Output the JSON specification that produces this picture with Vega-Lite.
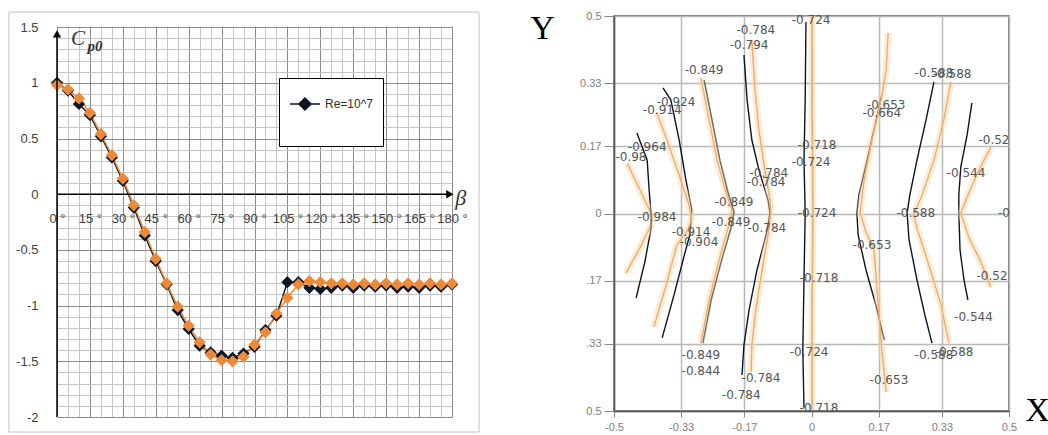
{
  "$schema": "https://vega.github.io/schema/vega-lite/v6.json",
  "padding": {"left": 8, "top": 1, "right": 0, "bottom": 0},
  "background": "white",
  "spacing": 48,
  "config": {"font": "Liberation Sans"},
  "datasets": {
    "cp": [
      {"beta":0,"cp":1.00,"series":"Re=10^7"},{"beta":5,"cp":0.93,"series":"Re=10^7"},{"beta":10,"cp":0.81,"series":"Re=10^7"},{"beta":15,"cp":0.71,"series":"Re=10^7"},{"beta":20,"cp":0.52,"series":"Re=10^7"},{"beta":25,"cp":0.33,"series":"Re=10^7"},{"beta":30,"cp":0.12,"series":"Re=10^7"},{"beta":35,"cp":-0.12,"series":"Re=10^7"},{"beta":40,"cp":-0.37,"series":"Re=10^7"},{"beta":45,"cp":-0.60,"series":"Re=10^7"},{"beta":50,"cp":-0.81,"series":"Re=10^7"},{"beta":55,"cp":-1.04,"series":"Re=10^7"},{"beta":60,"cp":-1.21,"series":"Re=10^7"},{"beta":65,"cp":-1.36,"series":"Re=10^7"},{"beta":70,"cp":-1.42,"series":"Re=10^7"},{"beta":75,"cp":-1.45,"series":"Re=10^7"},{"beta":80,"cp":-1.47,"series":"Re=10^7"},{"beta":85,"cp":-1.43,"series":"Re=10^7"},{"beta":90,"cp":-1.37,"series":"Re=10^7"},{"beta":95,"cp":-1.22,"series":"Re=10^7"},{"beta":100,"cp":-1.09,"series":"Re=10^7"},{"beta":105,"cp":-0.79,"series":"Re=10^7"},{"beta":110,"cp":-0.79,"series":"Re=10^7"},{"beta":115,"cp":-0.84,"series":"Re=10^7"},{"beta":120,"cp":-0.85,"series":"Re=10^7"},{"beta":125,"cp":-0.84,"series":"Re=10^7"},{"beta":130,"cp":-0.82,"series":"Re=10^7"},{"beta":135,"cp":-0.84,"series":"Re=10^7"},{"beta":140,"cp":-0.82,"series":"Re=10^7"},{"beta":145,"cp":-0.83,"series":"Re=10^7"},{"beta":150,"cp":-0.82,"series":"Re=10^7"},{"beta":155,"cp":-0.84,"series":"Re=10^7"},{"beta":160,"cp":-0.83,"series":"Re=10^7"},{"beta":165,"cp":-0.84,"series":"Re=10^7"},{"beta":170,"cp":-0.82,"series":"Re=10^7"},{"beta":175,"cp":-0.83,"series":"Re=10^7"},{"beta":180,"cp":-0.81,"series":"Re=10^7"},
      {"beta":0,"cp":0.98,"series":"Re=10^7 b"},{"beta":5,"cp":0.94,"series":"Re=10^7 b"},{"beta":10,"cp":0.86,"series":"Re=10^7 b"},{"beta":15,"cp":0.73,"series":"Re=10^7 b"},{"beta":20,"cp":0.54,"series":"Re=10^7 b"},{"beta":25,"cp":0.35,"series":"Re=10^7 b"},{"beta":30,"cp":0.14,"series":"Re=10^7 b"},{"beta":35,"cp":-0.10,"series":"Re=10^7 b"},{"beta":40,"cp":-0.34,"series":"Re=10^7 b"},{"beta":45,"cp":-0.58,"series":"Re=10^7 b"},{"beta":50,"cp":-0.80,"series":"Re=10^7 b"},{"beta":55,"cp":-1.01,"series":"Re=10^7 b"},{"beta":60,"cp":-1.18,"series":"Re=10^7 b"},{"beta":65,"cp":-1.33,"series":"Re=10^7 b"},{"beta":70,"cp":-1.44,"series":"Re=10^7 b"},{"beta":75,"cp":-1.49,"series":"Re=10^7 b"},{"beta":80,"cp":-1.50,"series":"Re=10^7 b"},{"beta":85,"cp":-1.46,"series":"Re=10^7 b"},{"beta":90,"cp":-1.35,"series":"Re=10^7 b"},{"beta":95,"cp":-1.24,"series":"Re=10^7 b"},{"beta":100,"cp":-1.07,"series":"Re=10^7 b"},{"beta":105,"cp":-0.93,"series":"Re=10^7 b"},{"beta":110,"cp":-0.81,"series":"Re=10^7 b"},{"beta":115,"cp":-0.78,"series":"Re=10^7 b"},{"beta":120,"cp":-0.79,"series":"Re=10^7 b"},{"beta":125,"cp":-0.80,"series":"Re=10^7 b"},{"beta":130,"cp":-0.80,"series":"Re=10^7 b"},{"beta":135,"cp":-0.81,"series":"Re=10^7 b"},{"beta":140,"cp":-0.80,"series":"Re=10^7 b"},{"beta":145,"cp":-0.81,"series":"Re=10^7 b"},{"beta":150,"cp":-0.80,"series":"Re=10^7 b"},{"beta":155,"cp":-0.81,"series":"Re=10^7 b"},{"beta":160,"cp":-0.80,"series":"Re=10^7 b"},{"beta":165,"cp":-0.81,"series":"Re=10^7 b"},{"beta":170,"cp":-0.80,"series":"Re=10^7 b"},{"beta":175,"cp":-0.81,"series":"Re=10^7 b"},{"beta":180,"cp":-0.80,"series":"Re=10^7 b"}
    ],
    "contours": [
      {"c":"Ao","s":"o","i":0,"x":-0.467,"y":0.128},{"c":"Ao","s":"o","i":1,"x":-0.434,"y":0.059},{"c":"Ao","s":"o","i":2,"x":-0.404,"y":-0.004},{"c":"Ao","s":"o","i":3,"x":-0.406,"y":-0.029},{"c":"Ao","s":"o","i":4,"x":-0.437,"y":-0.092},{"c":"Ao","s":"o","i":5,"x":-0.470,"y":-0.151},
      {"c":"Ad","s":"d","i":0,"x":-0.442,"y":0.204},{"c":"Ad","s":"d","i":1,"x":-0.416,"y":0.135},{"c":"Ad","s":"d","i":2,"x":-0.411,"y":0.059},{"c":"Ad","s":"d","i":3,"x":-0.406,"y":-0.004},{"c":"Ad","s":"d","i":4,"x":-0.406,"y":-0.037},{"c":"Ad","s":"d","i":5,"x":-0.422,"y":-0.123},{"c":"Ad","s":"d","i":6,"x":-0.444,"y":-0.214},
      {"c":"Bd","s":"d","i":0,"x":-0.376,"y":0.318},{"c":"Bd","s":"d","i":1,"x":-0.356,"y":0.287},{"c":"Bd","s":"d","i":2,"x":-0.335,"y":0.186},{"c":"Bd","s":"d","i":3,"x":-0.318,"y":0.085},{"c":"Bd","s":"d","i":4,"x":-0.303,"y":0.009},{"c":"Bd","s":"d","i":5,"x":-0.308,"y":-0.054},{"c":"Bd","s":"d","i":6,"x":-0.320,"y":-0.098},{"c":"Bd","s":"d","i":7,"x":-0.348,"y":-0.206},{"c":"Bd","s":"d","i":8,"x":-0.378,"y":-0.315},
      {"c":"Bo","s":"o","i":0,"x":-0.391,"y":0.254},{"c":"Bo","s":"o","i":1,"x":-0.366,"y":0.186},{"c":"Bo","s":"o","i":2,"x":-0.335,"y":0.097},{"c":"Bo","s":"o","i":3,"x":-0.310,"y":0.022},{"c":"Bo","s":"o","i":4,"x":-0.303,"y":-0.011},{"c":"Bo","s":"o","i":5,"x":-0.313,"y":-0.042},{"c":"Bo","s":"o","i":6,"x":-0.341,"y":-0.080},{"c":"Bo","s":"o","i":7,"x":-0.368,"y":-0.181},{"c":"Bo","s":"o","i":8,"x":-0.399,"y":-0.287},
      {"c":"Co","s":"o","i":0,"x":-0.280,"y":0.343},{"c":"Co","s":"o","i":1,"x":-0.259,"y":0.237},{"c":"Co","s":"o","i":2,"x":-0.239,"y":0.135},{"c":"Co","s":"o","i":3,"x":-0.216,"y":0.052},{"c":"Co","s":"o","i":4,"x":-0.201,"y":0.009},{"c":"Co","s":"o","i":5,"x":-0.209,"y":-0.029},{"c":"Co","s":"o","i":6,"x":-0.234,"y":-0.118},{"c":"Co","s":"o","i":7,"x":-0.259,"y":-0.219},{"c":"Co","s":"o","i":8,"x":-0.280,"y":-0.328},
      {"c":"Cd","s":"d","i":0,"x":-0.272,"y":0.338},{"c":"Cd","s":"d","i":1,"x":-0.252,"y":0.237},{"c":"Cd","s":"d","i":2,"x":-0.232,"y":0.135},{"c":"Cd","s":"d","i":3,"x":-0.211,"y":0.052},{"c":"Cd","s":"d","i":4,"x":-0.196,"y":0.004},{"c":"Cd","s":"d","i":5,"x":-0.204,"y":-0.037},{"c":"Cd","s":"d","i":6,"x":-0.229,"y":-0.123},{"c":"Cd","s":"d","i":7,"x":-0.254,"y":-0.219},{"c":"Cd","s":"d","i":8,"x":-0.275,"y":-0.328},
      {"c":"Dd","s":"d","i":0,"x":-0.171,"y":0.401},{"c":"Dd","s":"d","i":1,"x":-0.163,"y":0.287},{"c":"Dd","s":"d","i":2,"x":-0.151,"y":0.186},{"c":"Dd","s":"d","i":3,"x":-0.133,"y":0.110},{"c":"Dd","s":"d","i":4,"x":-0.110,"y":0.034},{"c":"Dd","s":"d","i":5,"x":-0.105,"y":0.001},{"c":"Dd","s":"d","i":6,"x":-0.115,"y":-0.054},{"c":"Dd","s":"d","i":7,"x":-0.138,"y":-0.143},{"c":"Dd","s":"d","i":8,"x":-0.158,"y":-0.244},{"c":"Dd","s":"d","i":9,"x":-0.171,"y":-0.333},{"c":"Dd","s":"d","i":10,"x":-0.176,"y":-0.409},
      {"c":"Do","s":"o","i":0,"x":-0.151,"y":0.439},{"c":"Do","s":"o","i":1,"x":-0.143,"y":0.313},{"c":"Do","s":"o","i":2,"x":-0.133,"y":0.211},{"c":"Do","s":"o","i":3,"x":-0.120,"y":0.123},{"c":"Do","s":"o","i":4,"x":-0.105,"y":0.034},{"c":"Do","s":"o","i":5,"x":-0.103,"y":0.001},{"c":"Do","s":"o","i":6,"x":-0.110,"y":-0.054},{"c":"Do","s":"o","i":7,"x":-0.125,"y":-0.143},{"c":"Do","s":"o","i":8,"x":-0.141,"y":-0.244},{"c":"Do","s":"o","i":9,"x":-0.151,"y":-0.333},{"c":"Do","s":"o","i":10,"x":-0.153,"y":-0.401},
      {"c":"Ed","s":"d","i":0,"x":-0.014,"y":0.485},{"c":"Ed","s":"d","i":1,"x":-0.016,"y":0.287},{"c":"Ed","s":"d","i":2,"x":-0.019,"y":0.135},{"c":"Ed","s":"d","i":3,"x":-0.016,"y":0.001},{"c":"Ed","s":"d","i":4,"x":-0.019,"y":-0.168},{"c":"Ed","s":"d","i":5,"x":-0.022,"y":-0.346},{"c":"Ed","s":"d","i":6,"x":-0.019,"y":-0.492},
      {"c":"Eo","s":"o","i":0,"x":0.001,"y":0.5},{"c":"Eo","s":"o","i":1,"x":0.001,"y":0.287},{"c":"Eo","s":"o","i":2,"x":0.004,"y":0.001},{"c":"Eo","s":"o","i":3,"x":0.001,"y":-0.219},{"c":"Eo","s":"o","i":4,"x":0.001,"y":-0.497},
      {"c":"Fd","s":"d","i":0,"x":0.178,"y":0.300},{"c":"Fd","s":"d","i":1,"x":0.158,"y":0.211},{"c":"Fd","s":"d","i":2,"x":0.138,"y":0.123},{"c":"Fd","s":"d","i":3,"x":0.120,"y":0.047},{"c":"Fd","s":"d","i":4,"x":0.115,"y":0.001},{"c":"Fd","s":"d","i":5,"x":0.118,"y":-0.054},{"c":"Fd","s":"d","i":6,"x":0.138,"y":-0.143},{"c":"Fd","s":"d","i":7,"x":0.163,"y":-0.232},{"c":"Fd","s":"d","i":8,"x":0.184,"y":-0.320},
      {"c":"Fo","s":"o","i":0,"x":0.194,"y":0.457},{"c":"Fo","s":"o","i":1,"x":0.189,"y":0.363},{"c":"Fo","s":"o","i":2,"x":0.176,"y":0.287},{"c":"Fo","s":"o","i":3,"x":0.153,"y":0.186},{"c":"Fo","s":"o","i":4,"x":0.133,"y":0.085},{"c":"Fo","s":"o","i":5,"x":0.123,"y":0.001},{"c":"Fo","s":"o","i":6,"x":0.138,"y":-0.047},{"c":"Fo","s":"o","i":7,"x":0.158,"y":-0.092},{"c":"Fo","s":"o","i":8,"x":0.168,"y":-0.219},{"c":"Fo","s":"o","i":9,"x":0.178,"y":-0.346},{"c":"Fo","s":"o","i":10,"x":0.189,"y":-0.452},
      {"c":"Gd","s":"d","i":0,"x":0.310,"y":0.333},{"c":"Gd","s":"d","i":1,"x":0.290,"y":0.237},{"c":"Gd","s":"d","i":2,"x":0.267,"y":0.135},{"c":"Gd","s":"d","i":3,"x":0.249,"y":0.047},{"c":"Gd","s":"d","i":4,"x":0.242,"y":0.001},{"c":"Gd","s":"d","i":5,"x":0.247,"y":-0.067},{"c":"Gd","s":"d","i":6,"x":0.267,"y":-0.168},{"c":"Gd","s":"d","i":7,"x":0.287,"y":-0.257},{"c":"Gd","s":"d","i":8,"x":0.305,"y":-0.328},
      {"c":"Go","s":"o","i":0,"x":0.353,"y":0.333},{"c":"Go","s":"o","i":1,"x":0.335,"y":0.237},{"c":"Go","s":"o","i":2,"x":0.310,"y":0.135},{"c":"Go","s":"o","i":3,"x":0.280,"y":0.047},{"c":"Go","s":"o","i":4,"x":0.259,"y":-0.004},{"c":"Go","s":"o","i":5,"x":0.267,"y":-0.037},{"c":"Go","s":"o","i":6,"x":0.297,"y":-0.130},{"c":"Go","s":"o","i":7,"x":0.328,"y":-0.232},{"c":"Go","s":"o","i":8,"x":0.348,"y":-0.328},
      {"c":"Hd","s":"d","i":0,"x":0.406,"y":0.280},{"c":"Hd","s":"d","i":1,"x":0.394,"y":0.199},{"c":"Hd","s":"d","i":2,"x":0.378,"y":0.118},{"c":"Hd","s":"d","i":3,"x":0.373,"y":0.047},{"c":"Hd","s":"d","i":4,"x":0.373,"y":0.001},{"c":"Hd","s":"d","i":5,"x":0.376,"y":-0.092},{"c":"Hd","s":"d","i":6,"x":0.386,"y":-0.168},{"c":"Hd","s":"d","i":7,"x":0.396,"y":-0.219},
      {"c":"Ho","s":"o","i":0,"x":0.454,"y":0.168},{"c":"Ho","s":"o","i":1,"x":0.424,"y":0.110},{"c":"Ho","s":"o","i":2,"x":0.399,"y":0.054},{"c":"Ho","s":"o","i":3,"x":0.378,"y":0.001},{"c":"Ho","s":"o","i":4,"x":0.399,"y":-0.062},{"c":"Ho","s":"o","i":5,"x":0.429,"y":-0.123},{"c":"Ho","s":"o","i":6,"x":0.454,"y":-0.186}
    ],
    "labels": [
      {"t":"-0.98","x":-0.457,"y":0.143},{"t":"-0.964","x":-0.416,"y":0.168},{"t":"-0.984","x":-0.391,"y":-0.009},
      {"t":"-0.924","x":-0.343,"y":0.282},{"t":"-0.914","x":-0.378,"y":0.262},{"t":"-0.914","x":-0.305,"y":-0.047},{"t":"-0.904","x":-0.285,"y":-0.072},
      {"t":"-0.849","x":-0.272,"y":0.363},{"t":"-0.849","x":-0.196,"y":0.029},{"t":"-0.849","x":-0.204,"y":-0.022},{"t":"-0.849","x":-0.280,"y":-0.358},{"t":"-0.844","x":-0.280,"y":-0.399},
      {"t":"-0.784","x":-0.141,"y":0.465},{"t":"-0.794","x":-0.158,"y":0.427},{"t":"-0.784","x":-0.108,"y":0.103},{"t":"-0.784","x":-0.115,"y":0.080},{"t":"-0.784","x":-0.113,"y":-0.037},{"t":"-0.784","x":-0.128,"y":-0.416},{"t":"-0.784","x":-0.178,"y":-0.459},
      {"t":"-0.724","x":-0.001,"y":0.490},{"t":"-0.718","x":0.014,"y":0.173},{"t":"-0.724","x":-0.001,"y":0.130},{"t":"-0.724","x":0.014,"y":0.001},{"t":"-0.718","x":0.019,"y":-0.163},{"t":"-0.724","x":-0.006,"y":-0.351},{"t":"-0.718","x":0.019,"y":-0.492},
      {"t":"-0.653","x":0.189,"y":0.275},{"t":"-0.664","x":0.178,"y":0.254},{"t":"-0.653","x":0.153,"y":-0.080},{"t":"-0.653","x":0.196,"y":-0.422},
      {"t":"-0.588","x":0.310,"y":0.356},{"t":"-0.588","x":0.356,"y":0.353},{"t":"-0.588","x":0.264,"y":0.001},{"t":"-0.588","x":0.310,"y":-0.358},{"t":"-0.588","x":0.361,"y":-0.351},
      {"t":"-0.52","x":0.462,"y":0.186},{"t":"-0.544","x":0.391,"y":0.103},{"t":"-0","x":0.487,"y":0.001},{"t":"-0.52","x":0.457,"y":-0.158},{"t":"-0.544","x":0.410,"y":-0.262}
    ]
  },
  "hconcat": [
    {
      "width": 395,
      "height": 401,
      "view": {"stroke": null},
      "layer": [
        {
          "data": {"name": "cp"},
          "mark": {"type": "line", "strokeWidth": 1.5},
          "encoding": {
            "x": {
              "field": "beta", "type": "quantitative",
              "scale": {"domain": [0, 180], "nice": false, "zero": false},
              "axis": {
                "values": [0,5,10,15,20,25,30,35,40,45,50,55,60,65,70,75,80,85,90,95,100,105,110,115,120,125,130,135,140,145,150,155,160,165,170,175,180],
                "tickCount": 200,
                "grid": true,
                "gridColor": {"condition": {"test": "datum.value % 15 === 0", "value": "#8c8c8c"}, "value": "#c6c6c6"},
                "gridWidth": 1,
                "domain": false, "ticks": false, "tickSize": 0,
                "labelExpr": "datum.value % 15 === 0 ? datum.value + ' °' : ''",
                "labelPadding": -199, "labelBaseline": "middle",
                "labelFontSize": 13, "labelColor": "#404040", "labelFont": "Liberation Sans",
                "labelOverlap": false, "labelFlush": false, "title": null
              }
            },
            "y": {
              "field": "cp", "type": "quantitative",
              "scale": {"domain": [-2, 1.5997], "nice": false, "zero": false},
              "axis": {
                "values": [-2,-1.9,-1.8,-1.7,-1.6,-1.5,-1.4,-1.3,-1.2,-1.1,-1,-0.9,-0.8,-0.7,-0.6,-0.5,-0.4,-0.3,-0.2,-0.1,0,0.1,0.2,0.3,0.4,0.5,0.6,0.7,0.8,0.9,1,1.1,1.2,1.3,1.4,1.5],
                "tickCount": 200,
                "grid": true,
                "gridColor": {"condition": {"test": "abs(round(datum.value*10)) % 5 === 0", "value": "#8c8c8c"}, "value": "#c6c6c6"},
                "gridWidth": 1,
                "domain": false, "ticks": false, "tickSize": 0,
                "labelExpr": "abs(round(datum.value*10)) % 5 === 0 ? '' + datum.value : ''",
                "labelPadding": 19, "labelFontSize": 13, "labelColor": "#404040", "labelFont": "Liberation Sans",
                "labelOverlap": false, "labelFlush": false, "title": null
              }
            },
            "color": {
              "field": "series", "type": "nominal",
              "scale": {"domain": ["Re=10^7", "Re=10^7 b"], "range": ["#0d1424", "#ec8a3a"]},
              "legend": {
                "values": ["Re=10^7"],
                "orient": "none", "legendX": 222, "legendY": 62,
                "title": " ", "titleOrient": "bottom", "titleFontSize": 22, "titlePadding": 2,
                "strokeColor": "#000000", "fillColor": "#ffffff", "padding": 10,
                "labelFontSize": 12, "labelColor": "#333333", "labelFont": "Liberation Sans", "labelOffset": 4,
                "symbolType": "M-1,0L1,0M0,-0.4L0.4,0L0,0.4L-0.4,0Z", "symbolSize": 900,
                "symbolStrokeWidth": 1.5, "symbolFillColor": "#000000", "symbolStrokeColor": "#000000"
              }
            }
          }
        },
        {
          "data": {"name": "cp"},
          "mark": {"type": "point", "shape": "diamond", "filled": true, "size": 150, "opacity": 1},
          "encoding": {
            "x": {"field": "beta", "type": "quantitative", "scale": {"domain": [0, 180], "nice": false, "zero": false}},
            "y": {"field": "cp", "type": "quantitative", "scale": {"domain": [-2, 1.5997], "nice": false, "zero": false}},
            "color": {"field": "series", "type": "nominal"}
          }
        },
        {
          "data": {"values": [{}]},
          "mark": {"type": "rect", "filled": false, "color": "#bfbfbf", "strokeWidth": 1},
          "encoding": {
            "x": {"datum": -21.9, "type": "quantitative", "scale": {"domain": [0, 180], "nice": false, "zero": false}},
            "x2": {"datum": 192.3},
            "y": {"datum": -2.135, "type": "quantitative", "scale": {"domain": [-2, 1.5997], "nice": false, "zero": false}},
            "y2": {"datum": 1.635}
          }
        },
        {
          "data": {"values": [{}]},
          "mark": {"type": "rect", "color": "white"},
          "encoding": {
            "x": {"datum": -1, "type": "quantitative", "scale": {"domain": [0, 180], "nice": false, "zero": false}},
            "x2": {"datum": 181},
            "y": {"datum": 1.506, "type": "quantitative", "scale": {"domain": [-2, 1.5997], "nice": false, "zero": false}},
            "y2": {"datum": 1.6}
          }
        },
        {
          "data": {"values": [{}]},
          "mark": {"type": "rule", "color": "#000000", "strokeWidth": 1.5},
          "encoding": {
            "x": {"datum": 0, "type": "quantitative", "scale": {"domain": [0, 180], "nice": false, "zero": false}},
            "x2": {"datum": 178},
            "y": {"datum": 0, "type": "quantitative", "scale": {"domain": [-2, 1.5997], "nice": false, "zero": false}}
          }
        },
        {
          "data": {"values": [{}]},
          "mark": {"type": "rule", "color": "#000000", "strokeWidth": 1.5},
          "encoding": {
            "x": {"datum": 0, "type": "quantitative", "scale": {"domain": [0, 180], "nice": false, "zero": false}},
            "y": {"datum": -2, "type": "quantitative", "scale": {"domain": [-2, 1.5997], "nice": false, "zero": false}},
            "y2": {"datum": 1.42}
          }
        },
        {
          "data": {"values": [{}]},
          "mark": {"type": "point", "shape": "triangle-right", "filled": true, "color": "#000000", "size": 70, "opacity": 1},
          "encoding": {
            "x": {"datum": 179, "type": "quantitative", "scale": {"domain": [0, 180], "nice": false, "zero": false}},
            "y": {"datum": 0, "type": "quantitative", "scale": {"domain": [-2, 1.5997], "nice": false, "zero": false}}
          }
        },
        {
          "data": {"values": [{}]},
          "mark": {"type": "point", "shape": "triangle-up", "filled": true, "color": "#000000", "size": 70, "opacity": 1},
          "encoding": {
            "x": {"datum": 0, "type": "quantitative", "scale": {"domain": [0, 180], "nice": false, "zero": false}},
            "y": {"datum": 1.44, "type": "quantitative", "scale": {"domain": [-2, 1.5997], "nice": false, "zero": false}}
          }
        },
        {
          "data": {"values": [{}]},
          "mark": {"type": "text", "text": "C", "font": "Liberation Serif", "fontStyle": "italic", "fontSize": 21, "color": "#333333", "baseline": "middle"},
          "encoding": {
            "x": {"datum": 9.6, "type": "quantitative", "scale": {"domain": [0, 180], "nice": false, "zero": false}},
            "y": {"datum": 1.39, "type": "quantitative", "scale": {"domain": [-2, 1.5997], "nice": false, "zero": false}}
          }
        },
        {
          "data": {"values": [{}]},
          "mark": {"type": "text", "text": "p0", "font": "Liberation Serif", "fontStyle": "italic", "fontWeight": "bold", "fontSize": 15, "color": "#333333", "baseline": "middle"},
          "encoding": {
            "x": {"datum": 17.3, "type": "quantitative", "scale": {"domain": [0, 180], "nice": false, "zero": false}},
            "y": {"datum": 1.33, "type": "quantitative", "scale": {"domain": [-2, 1.5997], "nice": false, "zero": false}}
          }
        },
        {
          "data": {"values": [{}]},
          "mark": {"type": "text", "text": "β", "font": "Liberation Serif", "fontStyle": "italic", "fontSize": 22, "color": "#333333", "baseline": "middle"},
          "encoding": {
            "x": {"datum": 184, "type": "quantitative", "scale": {"domain": [0, 180], "nice": false, "zero": false}},
            "y": {"datum": -0.03, "type": "quantitative", "scale": {"domain": [-2, 1.5997], "nice": false, "zero": false}}
          }
        }
      ]
    },
    {
      "width": 395,
      "height": 395,
      "view": {"stroke": "#555555", "strokeWidth": 1.5},
      "layer": [
        {
          "data": {"name": "contours"},
          "mark": {"type": "line", "strokeWidth": 1.4},
          "encoding": {
            "x": {
              "field": "x", "type": "quantitative",
              "scale": {"domain": [-0.5, 0.5], "nice": false, "zero": false},
              "axis": {
                "values": [-0.5, -0.33, -0.17, 0, 0.17, 0.33, 0.5],
                "labelExpr": "'' + datum.value",
                "grid": true, "gridColor": "#b8b8b8", "gridWidth": 1.5,
                "domainColor": "#555555", "domainWidth": 1.5,
                "tickColor": "#888888", "tickSize": 6,
                "labelColor": "#808080", "labelFontSize": 11, "labelPadding": 4, "labelFlush": false,
                "title": "X", "titleX": 423, "titleY": -1, "titleAlign": "center", "titleBaseline": "middle",
                "titleFont": "Liberation Serif", "titleFontSize": 34, "titleFontWeight": "normal", "titleColor": "#000000"
              }
            },
            "y": {
              "field": "y", "type": "quantitative",
              "scale": {"domain": [-0.5, 0.5], "nice": false, "zero": false},
              "axis": {
                "values": [-0.5, -0.33, -0.17, 0, 0.17, 0.33, 0.5],
                "labelExpr": "datum.value == -0.5 ? '0.5' : (datum.value < 0 ? slice('' + datum.value, 2) : '' + datum.value)",
                "grid": true, "gridColor": "#b8b8b8", "gridWidth": 1.5,
                "domainColor": "#555555", "domainWidth": 1.5,
                "tickColor": "#888888", "tickSize": 10,
                "labelColor": "#808080", "labelFontSize": 11, "labelPadding": 3, "labelFlush": false,
                "title": "Y", "titleAngle": 0, "titleX": -72, "titleY": 12, "titleAlign": "center", "titleBaseline": "middle",
                "titleFont": "Liberation Serif", "titleFontSize": 34, "titleFontWeight": "normal", "titleColor": "#000000"
              }
            },
            "color": {"field": "s", "type": "nominal", "scale": {"domain": ["d", "o"], "range": ["#3e4b5e", "#e39a3e"]}, "legend": null},
            "detail": {"field": "c"},
            "order": {"field": "i"}
          }
        },
        {
          "data": {"name": "contours"},
          "transform": [{"filter": "datum.s === 'o'"}],
          "mark": {"type": "line", "strokeWidth": 7, "color": "#f8d7ab", "opacity": 0.45},
          "encoding": {
            "x": {"field": "x", "type": "quantitative", "scale": {"domain": [-0.5, 0.5], "nice": false, "zero": false}},
            "y": {"field": "y", "type": "quantitative", "scale": {"domain": [-0.5, 0.5], "nice": false, "zero": false}},
            "detail": {"field": "c"},
            "order": {"field": "i"}
          }
        },
        {
          "data": {"name": "labels"},
          "mark": {"type": "text", "font": "DejaVu Sans", "fontSize": 12, "color": "#555555"},
          "encoding": {
            "x": {"field": "x", "type": "quantitative", "scale": {"domain": [-0.5, 0.5], "nice": false, "zero": false}},
            "y": {"field": "y", "type": "quantitative", "scale": {"domain": [-0.5, 0.5], "nice": false, "zero": false}},
            "text": {"field": "t"}
          }
        }
      ]
    }
  ]
}
